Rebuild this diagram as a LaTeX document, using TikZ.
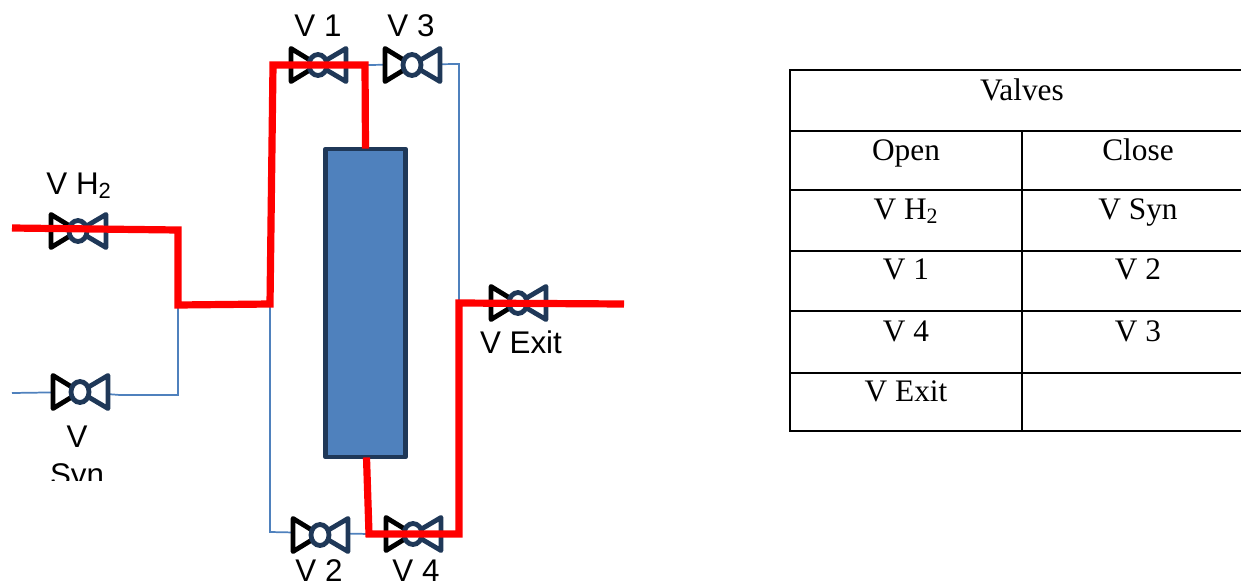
\documentclass[tikz,border=0pt]{standalone}
\usepackage{fontspec}
\setmainfont{Liberation Serif}
\newfontfamily\valvefont{Liberation Sans}
\usetikzlibrary{calc}
\definecolor{pipe}{RGB}{79,129,189}
\definecolor{navy}{RGB}{31,56,88}
\definecolor{flow}{RGB}{255,0,0}
\tikzset{
    valve/.pic={
        \draw[navy, line width=3.6pt, line join=round, fill=white] (0,0) -- (28,-16.5) -- (28,16.5) -- cycle;
        \draw[black, line width=3.6pt, line join=round, fill=white] (0,0) -- (-27,-16.5) -- (-27,16.5) -- cycle;
        \draw[navy, line width=3.6pt, fill=white] (0,0) ellipse (9 and 10.5);
    },
    valvelabel/.style={anchor=base, inner sep=0pt, font=\valvefont\fontsize{23.5}{27}\selectfont},
    celltext/.style={anchor=base, inner sep=0pt, font=\fontsize{23.5}{27}\selectfont},
    thinpipe/.style={pipe, line width=1.3pt},
    flowpipe/.style={flow, line width=5.4pt, line join=miter},
    gridline/.style={black, line width=1.6pt, line cap=rect}
}

\begin{document}
\begin{tikzpicture}[x=0.75pt, y=-0.75pt]
    \useasboundingbox (0,0) rectangle (1241,585);

    % valve positions
    \coordinate (vh) at (78,231);
    \coordinate (vsyn) at (80,392);
    \coordinate (vone) at (318,65);
    \coordinate (vthree) at (412,65);
    \coordinate (vtwo) at (320,535);
    \coordinate (vfour) at (413,534);
    \coordinate (vexit) at (518,303);

    % pipe corners
    \coordinate (inh) at (12,228);
    \coordinate (insyn) at (12,393);
    \coordinate (elbowa) at (178,230);
    \coordinate (elbowb) at (178,305);
    \coordinate (elbowsyn) at (178,395);
    \coordinate (teeleft) at (270,304);
    \coordinate (topleft) at (273,65);
    \coordinate (topmid) at (365,65);
    \coordinate (topright) at (459,64);
    \coordinate (teeright) at (459,303);
    \coordinate (botleft) at (270,532);
    \coordinate (botmid) at (369,534);
    \coordinate (botright) at (459,534);
    \coordinate (outlet) at (624,304);

    \node[draw=navy, fill=pipe, line width=3.6pt, line join=round, inner sep=0pt, minimum width=60pt, minimum height=231pt] (column) at (365.5,303) {};

    \draw[thinpipe] (insyn) -- (vsyn) -- ($(vsyn)+(40,3)$) -- (elbowsyn) -- (elbowb);
    \draw[thinpipe] (teeleft) -- (botleft) -- (botmid);
    \draw[thinpipe] (topmid) -- (topright) -- (teeright);

    \foreach \v in {vh, vsyn, vone, vthree, vtwo, vfour, vexit} {
        \pic at (\v) {valve};
    }

    \draw[flowpipe] (inh) -- (elbowa) -- (elbowb) -- (teeleft) -- (topleft) -- (topmid) -- ($(column.north)+(0,2)$);
    \draw[flowpipe] ($(column.south)+(1,-2)$) -- (botmid) -- (botright) -- (teeright) -- (outlet);

    \node[valvelabel] (lone) at (318,37) {V 1};
    \node[valvelabel] (lthree) at (411,37) {V 3};
    \node[valvelabel] (lh) at (79,194) {V H\textsubscript{2}};
    \node[valvelabel] (lexit) at (521,353) {V Exit};
    \node[valvelabel] (ltwo) at (319,581) {V 2};
    \node[valvelabel] (lfour) at (416,581) {V 4};
    \node[valvelabel] (lsyn) at (77,447) {V};
    \begin{scope}
        \clip (0,450) rectangle (200,480);
        \node[valvelabel] (lsynb) at (77,485) {Syn};
    \end{scope}

    % table
    \foreach \y in {70,131,190,251,311,373,431} {
        \draw[gridline] (790,\y) -- (1241,\y);
    }
    \draw[gridline] (790,70) -- (790,431);
    \draw[gridline] (1022,131) -- (1022,431);

    \node[celltext] (valves) at (1022,100) {Valves};
    \node[celltext] (open) at (906,160) {Open};
    \node[celltext] (close) at (1138,160) {Close};
    \node[celltext] (ch) at (906,219) {V H\textsubscript{2}};
    \node[celltext] (csyn) at (1138,219) {V Syn};
    \node[celltext] (cone) at (906,279) {V 1};
    \node[celltext] (ctwo) at (1138,279) {V 2};
    \node[celltext] (cfour) at (906,341) {V 4};
    \node[celltext] (cthree) at (1138,341) {V 3};
    \node[celltext] (cexit) at (906,401) {V Exit};

\end{tikzpicture}
\end{document}
